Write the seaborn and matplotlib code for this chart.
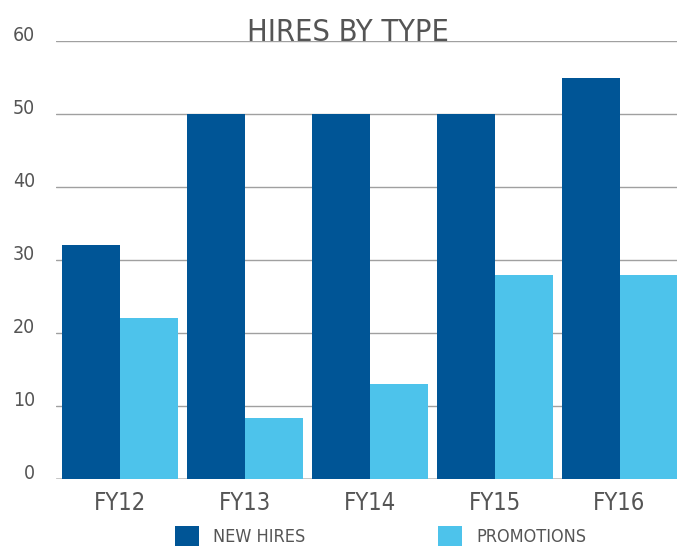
import matplotlib
matplotlib.use("Agg")
import matplotlib.pyplot as plt
from matplotlib import font_manager
from matplotlib.patches import Patch
import pandas as pd
import seaborn as sns

# data
years = ["FY12", "FY13", "FY14", "FY15", "FY16"]
new_hires = [32, 50, 50, 50, 55]
promotions = [22, 8.3, 13, 28, 28]
series_names = ["NEW HIRES", "PROMOTIONS"]
colors = ["#005596", "#4DC3EB"]

df = pd.DataFrame({
    "year": years * 2,
    "value": new_hires + promotions,
    "type": [series_names[0]] * len(years) + [series_names[1]] * len(years),
})

sns.set_theme(style="white")

# pick a narrow font if one is around
names = {f.name for f in font_manager.fontManager.ttflist}
if "Liberation Sans Narrow" in names:
    fam = ["Liberation Sans Narrow", "DejaVu Sans"]
    stretch = "normal"
else:
    fam = ["DejaVu Sans"]
    stretch = "condensed"
plt.rcParams["font.family"] = fam
plt.rcParams["font.stretch"] = stretch

text_col = "#555555"

fig = plt.figure(figsize=(6.77, 5.48), dpi=100)
ax = fig.add_axes([56 / 677, 1 - 479 / 548, 626 / 677, 438 / 548])

sns.barplot(data=df, x="year", y="value", hue="type", palette=colors,
            width=0.928, gap=0, saturation=1, linewidth=0, ax=ax, legend=False)

ax.set_ylim(0, 60)
ax.set_xlim(-0.512, 4.5)
ax.set_yticks(range(0, 61, 10))
ax.yaxis.grid(True, color="#a0a0a0", linewidth=1)
ax.set_axisbelow(True)
for s in ax.spines.values():
    s.set_visible(False)
ax.axhline(0, color="#cccccc", linewidth=2, zorder=0)
ax.tick_params(axis="both", length=0, colors=text_col)
ax.tick_params(axis="y", pad=15, labelsize=14)
ax.tick_params(axis="x", pad=9, labelsize=17)
for lab in ax.get_yticklabels():
    lab.set_va("baseline")
ax.set_xlabel("")
ax.set_ylabel("")

fig.text(0.514, 1 - 41 / 548, "HIRES BY TYPE", ha="center", va="baseline",
         fontsize=22, color=text_col)

handles = [Patch(facecolor=c, edgecolor="none") for c in colors]
fig.legend(handles, series_names, loc="lower left", bbox_to_anchor=(175 / 677, 0.004),
           ncol=2, frameon=False, fontsize=13, labelcolor=text_col,
           handlelength=1.33, handleheight=1.33, handletextpad=0.75,
           columnspacing=7.4, borderpad=0, borderaxespad=0)

fig.savefig("out.png", dpi=100)
